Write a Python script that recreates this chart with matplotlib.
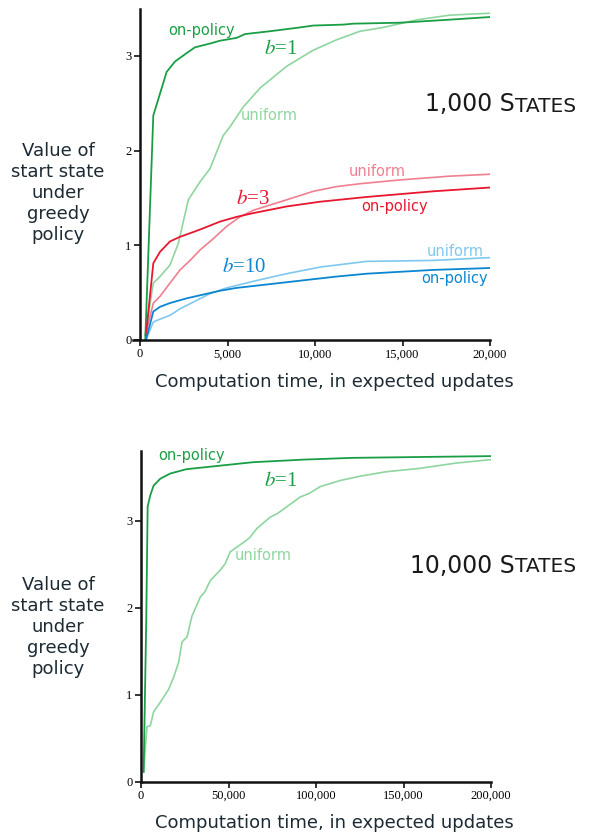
import numpy as np
import matplotlib
matplotlib.use('Agg')
import matplotlib.pyplot as plt

plt.rcParams['mathtext.fontset'] = 'stix'

# ---- data: 1,000 states ----
x1_on = [300, 760, 1240, 1520, 2000, 2670, 3140, 4000, 4570, 5520, 6000, 7430, 9140, 9900, 11620, 12190, 14860, 17520, 20000]
y1_on = [0.0, 2.37, 2.66, 2.83, 2.94, 3.03, 3.09, 3.13, 3.16, 3.19, 3.23, 3.26, 3.30, 3.32, 3.33, 3.34, 3.35, 3.38, 3.41]
x1_un = [290, 760, 1140, 1710, 2190, 2760, 3430, 4000, 4760, 5140, 5900, 6860, 8380, 9900, 11240, 12570, 13900, 15810, 17710, 20000]
y1_un = [0.05, 0.60, 0.67, 0.79, 1.02, 1.48, 1.67, 1.81, 2.16, 2.25, 2.46, 2.66, 2.89, 3.06, 3.17, 3.26, 3.30, 3.38, 3.43, 3.45]

x3_on = [340, 760, 1140, 1710, 2290, 3050, 3620, 4570, 5520, 6480, 8380, 10290, 12950, 16760, 20000]
y3_on = [0.05, 0.81, 0.93, 1.04, 1.09, 1.14, 1.18, 1.25, 1.30, 1.34, 1.41, 1.46, 1.51, 1.57, 1.61]
x3_un = [340, 760, 1140, 1710, 2290, 2860, 3430, 4190, 4950, 5710, 6480, 8380, 9900, 11240, 12570, 14860, 17710, 20000]
y3_un = [0.07, 0.39, 0.46, 0.60, 0.74, 0.84, 0.95, 1.07, 1.20, 1.30, 1.37, 1.48, 1.57, 1.62, 1.65, 1.69, 1.73, 1.75]

x10_on = [340, 760, 1140, 1710, 2670, 3620, 4570, 5520, 7430, 9330, 11240, 12950, 16760, 20000]
y10_on = [0.0, 0.30, 0.35, 0.39, 0.44, 0.48, 0.52, 0.55, 0.59, 0.63, 0.67, 0.70, 0.74, 0.76]
x10_un = [340, 760, 1140, 1710, 2290, 3050, 4000, 4950, 6480, 8380, 10290, 12950, 16760, 20000]
y10_un = [0.0, 0.19, 0.22, 0.26, 0.33, 0.40, 0.49, 0.55, 0.62, 0.70, 0.77, 0.83, 0.84, 0.87]

# ---- data: 10,000 states ----
xb_on = [1500, 3000, 3800, 5300, 7200, 11000, 16700, 26000, 45000, 64000, 93000, 121000, 160000, 200000]
yb_on = [0.11, 1.85, 3.16, 3.29, 3.40, 3.48, 3.54, 3.59, 3.63, 3.67, 3.70, 3.72, 3.73, 3.74]
xb_un = [1500, 3400, 5300, 7200, 11000, 15800, 18700, 21500, 23400, 24200, 26300, 29100, 33900, 36500,
         39600, 45300, 48000, 51000, 58700, 62000, 66300, 73900, 78000, 83400, 91000, 96000, 102500,
         113900, 125300, 140000, 159500, 180000, 200000]
yb_un = [0.11, 0.63, 0.64, 0.80, 0.91, 1.06, 1.20, 1.37, 1.60, 1.62, 1.66, 1.90, 2.12, 2.18,
         2.31, 2.43, 2.50, 2.64, 2.75, 2.80, 2.91, 3.04, 3.08, 3.16, 3.27, 3.31, 3.39,
         3.46, 3.51, 3.56, 3.60, 3.66, 3.70]

c_green = '#1a9e45'
c_lgreen = '#8ed6a0'
c_red = '#e8172f'
c_pink = '#f07f90'
c_blue = '#0b86d0'
c_lblue = '#7fc8ee'

W, H = 596, 834
fig = plt.figure(figsize=(W / 100, H / 100), dpi=100)


def px(x, y):
    return x / W, 1 - y / H


def style(ax, xticks, xlabels):
    for s in ['top', 'right']:
        ax.spines[s].set_visible(False)
    for s in ['left', 'bottom']:
        ax.spines[s].set_linewidth(1.8)
        ax.spines[s].set_color('#111111')
    ax.spines['left'].set_position(('data', 0))
    ax.tick_params(direction='out', length=4, width=1.2, color='#111111', pad=2)
    ax.set_xticks(xticks)
    ax.set_xticklabels(xlabels, fontfamily='Liberation Serif', fontsize=9)
    for t in ax.get_yticklabels():
        t.set_fontfamily('Liberation Serif')
        t.set_fontsize(9)


# top panel
ax1 = fig.add_axes([133 / W, (H - 340) / H, 357 / W, 331.5 / H])
ax1.set_xlim(-400, 20000)
ax1.set_ylim(0, 3.5)
ax1.set_yticks([0, 1, 2, 3])
ax1.plot(x1_un, y1_un, color=c_lgreen, lw=1.2)
ax1.plot(x1_on, y1_on, color=c_green, lw=1.3)
ax1.plot(x3_un, y3_un, color=c_pink, lw=1.2)
ax1.plot(x3_on, y3_on, color=c_red, lw=1.3)
ax1.plot(x10_un, y10_un, color=c_lblue, lw=1.2)
ax1.plot(x10_on, y10_on, color=c_blue, lw=1.3)
style(ax1, [0, 5000, 10000, 15000, 20000], ['0', '5,000', '10,000', '15,000', '20,000'])

# bottom panel
ax2 = fig.add_axes([141 / W, (H - 781.5) / H, 350 / W, 330.6 / H])
ax2.set_xlim(0, 200000)
ax2.set_ylim(0, 3.8)
ax2.set_yticks([0, 1, 2, 3])
ax2.plot(xb_un, yb_un, color=c_lgreen, lw=1.2)
ax2.plot(xb_on, yb_on, color=c_green, lw=1.3)
style(ax2, [0, 50000, 100000, 150000, 200000], ['0', '50,000', '100,000', '150,000', '200,000'])

ylab = 'Value of\nstart state\nunder\ngreedy\npolicy'
xlab = 'Computation time, in expected updates'
lab_col = '#1c2a33'


def t(x, y, s, c, size=10.5, **kw):
    fig.text(*px(x, y), s, color=c, fontsize=size, ha='center', va='center', **kw)


def bt(x, y, s, c):
    fig.text(*px(x, y), s, color=c, fontsize=15, ha='center', va='center',
             fontfamily='Liberation Serif')


def states(n, ybase):
    fig.text(*px(515, ybase), n + ' S', fontsize=17, ha='right', va='baseline', color='#1a1a1a')
    fig.text(*px(515, ybase), 'TATES', fontsize=14.5, ha='left', va='baseline', color='#1a1a1a')


# top labels
t(202, 30, 'on-policy', c_green)
bt(281, 50, '$b$=1', c_green)
t(269, 116, 'uniform', c_lgreen)
t(377, 172, 'uniform', c_pink)
bt(253, 200, '$b$=3', c_red)
t(395, 206, 'on-policy', c_red)
t(455, 251, 'uniform', c_lblue)
bt(244, 268, '$b$=10', c_blue)
t(455, 279, 'on-policy', c_blue)
states('1,000', 111.5)
t(58, 193, ylab, lab_col, size=13, linespacing=1.2)
t(334, 382, xlab, lab_col, size=13)

# bottom labels
t(192, 455, 'on-policy', c_green)
bt(281, 482, '$b$=1', c_green)
t(263, 555, 'uniform', c_lgreen)
states('10,000', 572.5)
t(58, 627, ylab, lab_col, size=13, linespacing=1.2)
t(334, 823, xlab, lab_col, size=13)

fig.savefig('out.png', dpi=100)
